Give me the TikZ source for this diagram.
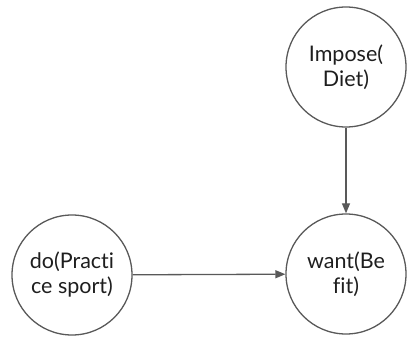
\documentclass[tikz,border=0pt]{standalone}
\usepackage{fontspec}
\setmainfont{Lato}[Ligatures=CommonOff]
\usetikzlibrary{arrows.meta}
\definecolor{edgegray}{HTML}{595959}
\definecolor{labelink}{HTML}{1E1E1E}
\begin{document}
\begin{tikzpicture}[x=1pt,y=1pt,
  state/.style={circle, draw=edgegray, line width=1.3pt, minimum size=120pt, inner sep=0pt,
    align=center, font=\fontsize{21.5}{25}\selectfont, text=labelink},
  link/.style={draw=edgegray, line width=1.3pt, -{Triangle[length=10pt,width=8pt]}}]
\useasboundingbox (0,0) rectangle (409,337);
\node[state] (impose) at (346,270) {Impose(\\Diet)};
\node[state] (want) at (346,63) {want(Be\\fit)};
\node[state] (doit) at (72,62) {do(Practi\\ce sport)};
\draw[link] (impose) -- (want);
\draw[link] (doit) -- (want);
\end{tikzpicture}
\end{document}
